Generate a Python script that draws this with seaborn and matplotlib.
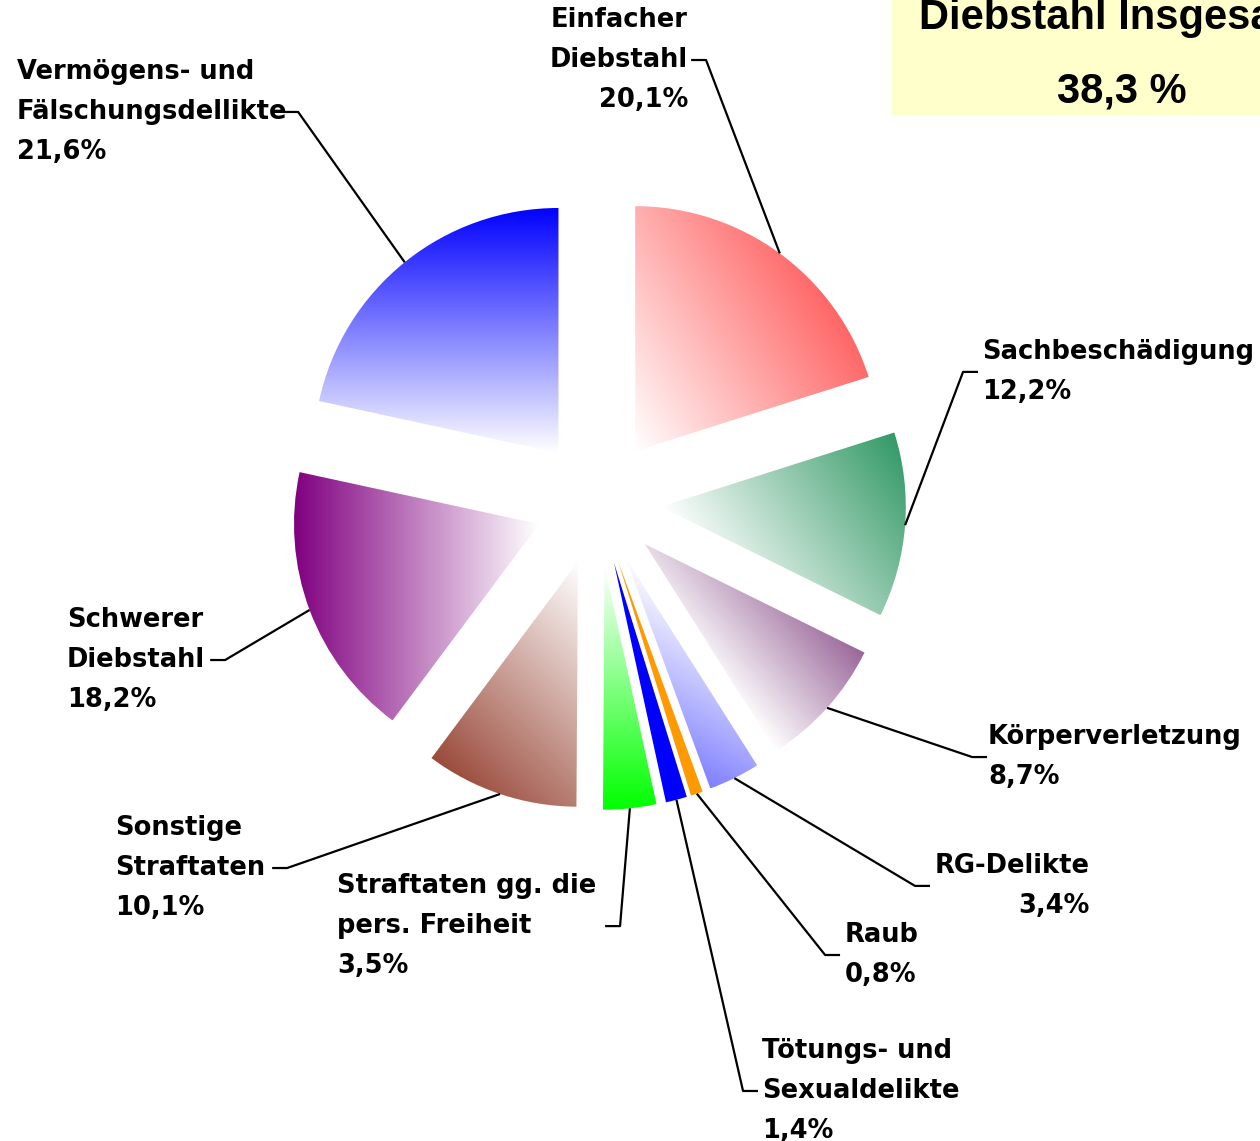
import numpy as np
import matplotlib
matplotlib.use("Agg")
import matplotlib.pyplot as plt
import seaborn as sns
from matplotlib.colors import to_rgb
from matplotlib.patches import Rectangle

# data, clockwise from 12 o'clock
categories = ["Einfacher\nDiebstahl", "Sachbeschädigung", "Körperverletzung",
              "RG-Delikte", "Raub", "Tötungs- und\nSexualdelikte",
              "Straftaten gg. die\npers. Freiheit", "Sonstige\nStraftaten",
              "Schwerer\nDiebstahl", "Vermögens- und\nFälschungsdellikte"]
shares = [20.1, 12.2, 8.7, 3.4, 0.8, 1.4, 3.5, 10.1, 18.2, 21.6]
theft_parts = ["Einfacher\nDiebstahl", "Schwerer\nDiebstahl"]
box_title = "Diebstahl Insgesamt"

# styles
colors = ["#FF6666", "#339966", "#996699", "#8080FF", "#FF9900",
          "#0000FF", "#00FF00", "#9A4A3A", "#800080", "#0000FF"]
grad_angles = [32, 35, 40, 240, None, None, 270, 225, 180, 90]

# label layout: elbow point, tick direction, text x, ha, multialignment
label_layout = [
    ((0.441, 1.804), -1, 0.367, "right", "right"),
    ((1.490, 0.531), 1, 1.567, "left", "left"),
    ((1.527, -1.041), 1, 1.592, "left", "left"),
    ((1.294, -1.567), 1, 1.376, "left", "right"),
    ((0.927, -1.849), 1, 1.008, "left", "left"),
    ((0.592, -2.404), 1, 0.669, "left", "left"),
    ((0.090, -1.731), -1, -1.065, "left", "left"),
    ((-1.269, -1.494), -1, -1.971, "left", "left"),
    ((-1.522, -0.645), -1, -2.167, "left", "left"),
    ((-1.224, 1.592), -1, -2.371, "left", "left"),
]


def fmt(v):
    return f"{v:.1f}".replace(".", ",")


sns.set_theme(style="white")
plt.rcParams["font.family"] = ["DejaVu Sans"]
plt.rcParams["text.color"] = "black"

fig = plt.figure(figsize=(12.6, 11.41), dpi=100)
ax = fig.add_axes([0, 0, 1, 1])

wedges, _ = ax.pie(shares, explode=[0.257] * len(shares), startangle=90,
                   counterclock=False, radius=1, center=(0, 0),
                   wedgeprops=dict(linewidth=0, edgecolor="none"))

for w, col, ang in zip(wedges, colors, grad_angles):
    rgb = np.array(to_rgb(col))
    if ang is None:
        w.set_facecolor(col)
        w.set_zorder(2)
        continue
    w.set_facecolor("none")
    cx, cy = w.center
    th = np.radians(np.linspace(w.theta1, w.theta2, 200))
    bx = np.concatenate([[cx], cx + w.r * np.cos(th)])
    by = np.concatenate([[cy], cy + w.r * np.sin(th)])
    d = np.array([np.cos(np.radians(ang)), np.sin(np.radians(ang))])
    proj = bx * d[0] + by * d[1]
    x0, x1, y0, y1 = bx.min(), bx.max(), by.min(), by.max()
    X, Y = np.meshgrid(np.linspace(x0, x1, 400), np.linspace(y0, y1, 400))
    t = ((X * d[0] + Y * d[1]) - proj.min()) / (proj.max() - proj.min())
    t = np.clip(t, 0, 1)[..., None]
    img = 1 - t * (1 - rgb)
    im = ax.imshow(img, extent=[x0, x1, y0, y1], origin="lower",
                   interpolation="bilinear", zorder=1)
    im.set_clip_path(w)

# labels with leader lines
for w, name, v, lay in zip(wedges, categories, shares, label_layout):
    (ex, ey), tdir, tx, ha, ma = lay
    mid = np.radians((w.theta1 + w.theta2) / 2)
    sx = w.center[0] + w.r * np.cos(mid)
    sy = w.center[1] + w.r * np.sin(mid)
    ax.plot([sx, ex, ex + tdir * 0.061], [sy, ey, ey], color="black",
            lw=1.6, zorder=3, solid_capstyle="butt")
    ax.text(tx, ey, f"{name}\n{fmt(v)}%", ha=ha, va="center",
            multialignment=ma, fontsize=18.5, fontweight="bold",
            linespacing=1.69, color="black", zorder=4)

# total theft box
total = sum(v for c, v in zip(categories, shares) if c in theft_parts)
ax.add_patch(Rectangle((1.2, 1.580), 2.0, 1.0, facecolor="#FFFFCC",
                       edgecolor="none", zorder=0))
ax.text(2.139, 1.931, box_title, ha="center", va="baseline", color="black",
        fontsize=30, fontweight="bold", family=["Liberation Sans"], zorder=4)
ax.text(2.139, 1.629, f"{fmt(total)} %", ha="center", va="baseline",
        color="black", fontsize=30, fontweight="bold",
        family=["Liberation Sans"], zorder=4)

ax.set_xlim(-598 / 245, (1260 - 598) / 245)
ax.set_ylim((502 - 1141) / 245, 502 / 245)
ax.set_aspect("equal")
ax.axis("off")

fig.savefig("out.png", dpi=100)
